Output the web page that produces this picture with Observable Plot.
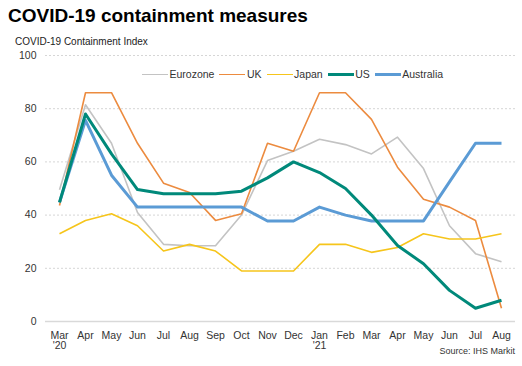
<!DOCTYPE html>
<html><head><meta charset="utf-8">
<script src="https://cdn.jsdelivr.net/npm/d3@7"></script>
<script src="https://cdn.jsdelivr.net/npm/@observablehq/plot@0.6"></script>
<style>
body{margin:0;background:#fff;font-family:Arial,"Liberation Sans",sans-serif;}
#wrap{position:relative;width:522px;height:366px;overflow:hidden;}
#title{position:absolute;left:8px;top:5px;font-size:19px;font-weight:bold;color:#000;white-space:nowrap;}
#sub{position:absolute;left:15px;top:36px;font-size:10px;color:#222;white-space:nowrap;}
#src{position:absolute;right:7px;top:346px;font-size:9px;color:#333;white-space:nowrap;}
#legend{position:absolute;left:142px;top:68px;font-size:10.5px;color:#333;display:flex;align-items:center;white-space:nowrap;}
#legend .it{display:flex;align-items:center;margin-right:5px;}
#legend .sw{display:inline-block;width:26px;margin-right:1.5px;}
#chart{position:absolute;left:0;top:0;}
</style></head>
<body>
<div id="wrap">
<div id="chart"></div>
<div id="title">COVID-19 containment measures</div>
<div id="sub">COVID-19 Containment Index</div>
<div id="legend"></div>
<div id="src">Source: IHS Markit</div>
</div>
<script>
const months = ["2020-03","2020-04","2020-05","2020-06","2020-07","2020-08","2020-09","2020-10","2020-11","2020-12","2021-01","2021-02","2021-03","2021-04","2021-05","2021-06","2021-07","2021-08"];
const monthLabels = ["Mar\n'20","Apr","May","Jun","Jul","Aug","Sep","Oct","Nov","Dec","Jan\n'21","Feb","Mar","Apr","May","Jun","Jul","Aug"];
const yTicks = [0,20,40,60,80,100];

const seriesNames = ["Eurozone","UK","Japan","US","Australia"];
const eurozone  = [49.5,81.5,67,41,29,28.5,28.5,40,60.5,64,68.5,66.5,63,69.3,57.5,36,25.5,22.5];
const uk        = [43.6,86,86,67,52,48.5,38,40.5,67,64,86,86,76,58,46,43,38,5];
const japan     = [33,38,40.5,36,26.5,29,26.5,19,19,19,29,29,26,27.8,33,31,31,33];
const us        = [44.8,78,63,49.6,48,48,48,49,54,60,56,50,40,28.6,21.7,11.7,5,8];
const australia = [44.8,75.6,55,43,43,43,43,43,37.8,37.8,43,40,37.8,37.8,37.8,52.5,67,67];

const colors = {Eurozone:"#c3c3c3",UK:"#ec8b3f",Japan:"#f6c51b",US:"#00897a",Australia:"#5b9bd5"};
const widths = {Eurozone:1.6,UK:1.6,Japan:1.6,US:3,Australia:3};

const seriesData = {Eurozone:eurozone,UK:uk,Japan:japan,US:us,Australia:australia};
const rows = name => months.map((m,i)=>({month:m,value:seriesData[name][i],series:name}));
const labelOf = new Map(months.map((m,i)=>[m,monthLabels[i]]));

const drawOrder = ["Eurozone","UK","Japan","Australia","US"];

const chart = Plot.plot({
  width:522, height:366,
  marginTop:55, marginBottom:45, marginLeft:45, marginRight:7,
  style:{fontFamily:"Arial, 'Liberation Sans', sans-serif", fontSize:"10.5px", color:"#333", background:"transparent"},
  x:{type:"point", domain:months, padding:0.46, label:null},
  y:{domain:[0,100], label:null},
  marks:[
    Plot.ruleY(yTicks.filter(d=>d>0), {stroke:"#d6d6d6", strokeDasharray:"2,2", strokeWidth:1}),
    Plot.ruleY([0], {stroke:"#d9d9d9", strokeWidth:1.5}),
    Plot.axisY({ticks:yTicks, tickSize:0, tickPadding:9, label:null, fontSize:10.5}),
    Plot.axisX({tickSize:0, tickPadding:10, label:null, fontSize:10.5, tickFormat:d=>labelOf.get(d)}),
    ...drawOrder.map(name=>Plot.line(rows(name), {x:"month", y:"value", stroke:colors[name], strokeWidth:widths[name], strokeLinejoin:"round", strokeLinecap:"butt"}))
  ]
});
document.getElementById("chart").appendChild(chart);

const lg = document.getElementById("legend");
seriesNames.forEach(name=>{
  const it = document.createElement("span"); it.className="it";
  const sw = document.createElement("span"); sw.className="sw";
  sw.style.borderTop = `${widths[name]}px solid ${colors[name]}`;
  const tx = document.createElement("span"); tx.textContent = name;
  it.appendChild(sw); it.appendChild(tx); lg.appendChild(it);
});
</script>
</body></html>
